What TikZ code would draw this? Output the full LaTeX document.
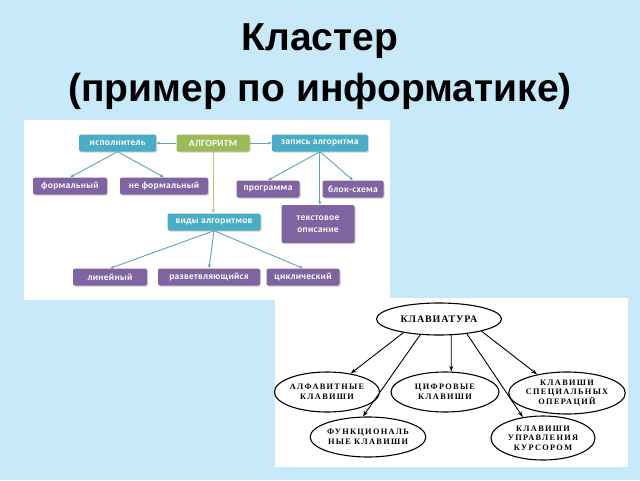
\documentclass[tikz,border=0pt]{standalone}
\usepackage{fontspec}
\setmainfont{Liberation Sans}
\newfontfamily\boxfont[LetterSpace=3]{Carlito}
\newfontfamily\ovalfont[LetterSpace=16]{Liberation Serif}
\newfontfamily\kbdfont[LetterSpace=9]{Liberation Serif}
\usetikzlibrary{arrows.meta,positioning,calc,shapes.geometric,shadows}
\definecolor{slidebg}{RGB}{200,233,250}
\definecolor{tealbox}{RGB}{75,172,198}
\definecolor{greenbox}{RGB}{155,187,89}
\definecolor{purplebox}{RGB}{128,100,162}
\definecolor{linkteal}{RGB}{95,165,178}
\definecolor{linktan}{RGB}{205,185,110}

\begin{document}
\begin{tikzpicture}[
  x=1pt, y=-1pt,
  box/.style={rounded corners=2pt, minimum height=17pt, inner xsep=2pt, inner ysep=2pt,
    text=white, font=\boxfont\bfseries\fontsize{9.5}{10.5}\selectfont,
    drop shadow={shadow xshift=1pt, shadow yshift=-1pt, opacity=0.35}},
  tbox/.style={box, fill=tealbox},
  gbox/.style={box, fill=greenbox},
  pbox/.style={box, fill=purplebox},
  tarr/.style={-{Stealth[length=4pt,width=3pt]}, draw=linkteal, line width=0.9pt},
  yarr/.style={-{Stealth[length=4pt,width=3pt]}, draw=linktan, line width=0.9pt},
  oval/.style={ellipse, draw, line width=1.1pt, fill=white, inner sep=0pt, align=center,
    font=\ovalfont\bfseries\fontsize{8.3}{9.5}\selectfont},
  karr/.style={-{Stealth[length=6pt,width=4pt]}, line width=0.9pt},
  title/.style={font=\bfseries\fontsize{39}{41}\selectfont}
]
  \useasboundingbox (0,0) rectangle (640,480);
  \fill[slidebg] (0,0) rectangle (640,480);
  \fill[white] (24,120) rectangle (390,300);
  \fill[white] (275,298) rectangle (628,467);

  % title
  \node[title] (ttl1) at (320,41) {Кластер};
  \node[title] (ttl2) at (320,91) {(пример по информатике)};

  % algorithm cluster
  \node[gbox, minimum width=73pt] (alg) at (213,143) {АЛГОРИТМ};
  \node[tbox, minimum width=77pt, left=20pt of alg] (isp) {исполнитель};
  \node[tbox, minimum width=96pt, right=22pt of alg] (rec) {запись алгоритма};
  \node[pbox, minimum width=74pt] (frm) at (70,186) {формальный};
  \node[pbox, minimum width=88pt] (nfrm) at (164,186) {не формальный};
  \node[pbox, minimum width=63pt] (prg) at (268,189) {программа};
  \node[pbox, minimum width=61pt] (blk) at (353,189) {блок-схема};
  \node[tbox, minimum width=93pt] (kind) at (214,222) {виды алгоритмов};
  \node[pbox, minimum width=73pt, minimum height=38pt, align=center] (txt) at (318,224)
    {текстовое\\[2pt]описание};
  \node[pbox, minimum width=74pt] (lin) at (110,277) {линейный};
  \node[pbox, minimum width=102pt] (brn) at (209,277) {разветвляющийся};
  \node[pbox, minimum width=73pt] (cyc) at (303,277) {циклический};

  \draw[tarr] (alg) -- (isp);
  \draw[tarr] (alg) -- (rec);
  \draw[tarr] (isp.south) -- (frm.north);
  \draw[tarr] (isp.south) -- (nfrm.north);
  \draw[tarr] (rec.south) -- (prg.north);
  \draw[tarr] (rec.south) -- (blk.north);
  \draw[tarr] (rec.south) -- (txt.north -| rec.south);
  \draw[yarr] (alg.south) -- (kind.north -| alg.south);
  \draw[tarr] (kind.south) -- (lin.north);
  \draw[tarr] (kind.south) -- (brn.north);
  \draw[tarr] (kind.south) -- (cyc.north);

  % keyboard cluster
  \node[oval, minimum width=125pt, minimum height=32pt,
    font=\kbdfont\bfseries\fontsize{10}{12}\selectfont] (kbd) at (439,319) {КЛАВИАТУРА};
  \node[oval, minimum width=104pt, minimum height=40pt] (alpha) at (327,392)
    {АЛФАВИТНЫЕ\\КЛАВИШИ};
  \node[oval, minimum width=108pt, minimum height=40pt] (digit) at (445,392)
    {ЦИФРОВЫЕ\\КЛАВИШИ};
  \node[oval, minimum width=116pt, minimum height=42pt] (spec) at (567,393)
    {КЛАВИШИ\\СПЕЦИАЛЬНЫХ\\ОПЕРАЦИЙ};
  \node[oval, minimum width=100pt, minimum height=40pt] (func) at (368,437)
    {ФУНКЦИОНАЛЬ\\НЫЕ КЛАВИШИ};
  \node[oval, minimum width=104pt, minimum height=44pt] (curs) at (543,438)
    {КЛАВИШИ\\УПРАВЛЕНИЯ\\КУРСОРОМ};

  \draw[karr] (kbd.201) -- (alpha.38);
  \draw[karr] (kbd.220) -- (func.104);
  \draw[karr] (kbd.307) -- (digit.73);
  \draw[karr] (kbd.332) -- (curs.134);
  \draw[karr] (kbd.344) -- (spec.148);
\end{tikzpicture}
\end{document}
